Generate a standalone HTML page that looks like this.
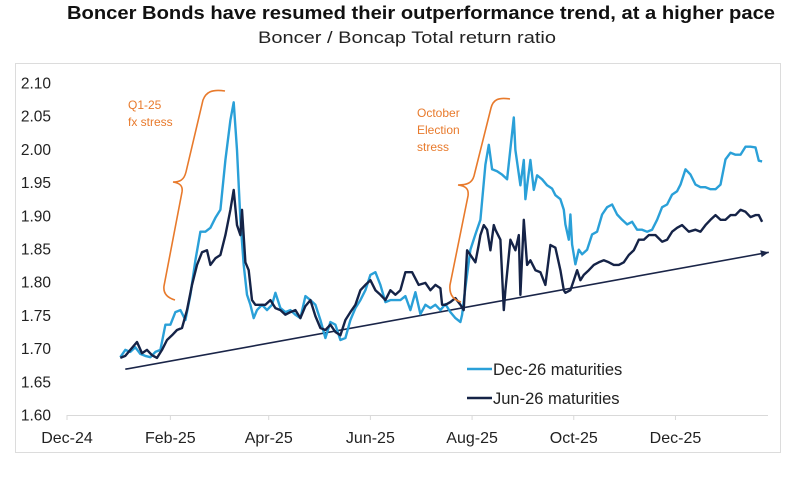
<!DOCTYPE html>
<html><head><meta charset="utf-8">
<style>
html,body{margin:0;padding:0;background:#fff;}
body{width:800px;height:496px;overflow:hidden;font-family:"Liberation Sans",Arial,sans-serif;}
</style></head>
<body>
<svg id="chart" width="800" height="496" xmlns="http://www.w3.org/2000/svg">
<text x="67" y="19" textLength="708" lengthAdjust="spacingAndGlyphs" font-size="18" font-weight="bold" fill="#111">Boncer Bonds have resumed their outperformance trend, at a higher pace</text>
<text x="258" y="43" textLength="298" lengthAdjust="spacingAndGlyphs" font-size="17" fill="#222">Boncer / Boncap Total return ratio</text>
<rect x="15.5" y="63.5" width="765" height="389" fill="none" stroke="#dcdcdc" stroke-width="1"/>
<g id="axes"></g>
<g id="series"></g>
<g fill="#e87a2c" font-size="12">
<path d="M225,91 C212,89 206,92 203,100 L186,172 C184,180 180,182 173,182 C180,183 183,186 182,192 L164,286 C163,294 168,298 175,300" fill="none" stroke="#e87a2c" stroke-width="1.6"/>
<text x="128" y="109">Q1-25</text>
<text x="128" y="126">fx stress</text>
<path d="M510,99 C498,97 493,100 491,108 L474,176 C472,183 467,185 458,185 C466,186 469,189 468,196 L450,285 C449,295 454,300 461,302" fill="none" stroke="#e87a2c" stroke-width="1.6"/>
<text x="417" y="117">October</text>
<text x="417" y="134">Election</text>
<text x="417" y="151">stress</text>
</g>
<g font-size="16.5" fill="#222">
<line x1="467" y1="369" x2="492" y2="369" stroke="#2aa0d8" stroke-width="2.5"/>
<text x="493" y="375">Dec-26 maturities</text>
<line x1="467" y1="398" x2="492" y2="398" stroke="#152347" stroke-width="2.5"/>
<text x="493" y="404">Jun-26 maturities</text>
</g>
</svg>
<script>
// days since 2024-12-01
const decDays=[32,35,38,41,44,47,50,53,56,59,62,65,68,71,74,77,80,83,86,89,92,95,98,100,102,104,106,108,110,112,114,117,120,123,125,128,131,134,137,140,143,146,149,152,155,158,161,164,167,170,173,176,179,182,185,188,191,194,200,203,206,209,212,215,218,221,224,227,230,233,236,237,239,242,245,248,251,253,255,258,261,264,268,269,272,274,275,278,280,282,285,288,291,293,296,298,299,301,302,303,305,307,309,312,315,318,321,324,327,330,333,336,339,342,345,348,351,354,357,360,363,366,368,371,374,377,380,383,386,389,392,395,398,401,404,407,410,413,415,417];
const decValues=[1.687,1.698,1.695,1.702,1.692,1.689,1.687,1.695,1.698,1.736,1.736,1.755,1.758,1.743,1.781,1.833,1.876,1.876,1.882,1.897,1.909,1.984,2.044,2.071,1.999,1.894,1.826,1.781,1.766,1.746,1.758,1.766,1.758,1.766,1.784,1.761,1.755,1.758,1.751,1.746,1.779,1.773,1.766,1.743,1.716,1.740,1.736,1.713,1.716,1.743,1.761,1.773,1.788,1.811,1.815,1.796,1.770,1.773,1.773,1.779,1.758,1.785,1.752,1.766,1.761,1.766,1.758,1.767,1.755,1.746,1.740,1.751,1.792,1.849,1.872,1.894,1.977,2.007,1.970,1.967,1.962,1.955,2.048,1.999,1.946,1.984,1.925,1.984,1.939,1.961,1.955,1.946,1.941,1.931,1.925,1.909,1.887,1.864,1.902,1.857,1.827,1.849,1.842,1.849,1.872,1.876,1.902,1.913,1.917,1.902,1.894,1.887,1.891,1.879,1.879,1.876,1.879,1.894,1.913,1.917,1.932,1.937,1.947,1.970,1.962,1.947,1.943,1.943,1.940,1.940,1.947,1.985,1.995,1.992,1.992,2.004,2.004,2.003,1.983,1.982];
const junDays=[32,35,38,42,45,48,51,54,57,60,63,66,69,72,75,78,81,84,86,89,92,95,98,100,102,104,105,107,109,111,113,116,119,122,125,128,131,134,137,140,143,146,149,152,155,158,161,164,167,170,173,176,179,182,185,188,191,194,197,200,203,207,211,215,218,221,224,225,227,230,233,236,238,240,242,245,247,248,250,252,254,256,257,260,262,263,266,269,271,272,274,276,278,281,284,287,290,293,296,298,299,302,304,306,308,310,313,316,319,322,325,328,331,334,337,340,343,346,349,353,357,360,363,366,369,373,377,380,383,386,389,392,395,398,401,404,407,410,413,415,417];
const junValues=[1.686,1.689,1.698,1.710,1.693,1.698,1.690,1.686,1.698,1.713,1.720,1.728,1.731,1.758,1.796,1.826,1.845,1.848,1.826,1.836,1.841,1.871,1.909,1.939,1.886,1.871,1.909,1.830,1.818,1.773,1.766,1.766,1.766,1.773,1.761,1.758,1.751,1.755,1.758,1.746,1.764,1.773,1.749,1.731,1.728,1.736,1.725,1.720,1.743,1.755,1.766,1.788,1.796,1.803,1.788,1.781,1.773,1.788,1.781,1.788,1.815,1.815,1.796,1.799,1.788,1.796,1.791,1.766,1.766,1.770,1.776,1.766,1.758,1.848,1.841,1.830,1.856,1.871,1.886,1.879,1.848,1.886,1.879,1.864,1.758,1.788,1.864,1.848,1.871,1.781,1.894,1.826,1.833,1.818,1.815,1.796,1.856,1.852,1.818,1.788,1.784,1.788,1.803,1.818,1.803,1.811,1.818,1.826,1.830,1.833,1.830,1.826,1.826,1.830,1.841,1.848,1.864,1.864,1.871,1.871,1.861,1.864,1.876,1.882,1.886,1.876,1.879,1.876,1.886,1.894,1.901,1.894,1.894,1.901,1.901,1.909,1.906,1.898,1.901,1.901,1.891];
const trendDays=[35,421];
const trendValues=[1.669,1.845];
const yTicks=[1.60,1.65,1.70,1.75,1.80,1.85,1.90,1.95,2.00,2.05,2.10];
const xTickDays=[0,62,121,182,243,304,365];
const xTickLabels=["Dec-24","Feb-25","Apr-25","Jun-25","Aug-25","Oct-25","Dec-25"];

const NS="http://www.w3.org/2000/svg";
const X0=67, PXD=1.667, Y0=415, PXV=664;
function xs(d){return X0+d*PXD;}
function ys(v){return Y0-(v-1.60)*PXV;}
function mk(tag,attrs,parent){const e=document.createElementNS(NS,tag);for(const k in attrs)e.setAttribute(k,attrs[k]);parent.appendChild(e);return e;}
const axes=document.getElementById('axes'), ser=document.getElementById('series');

const xl=mk('line',{x1:67,y1:Y0+0.5,x2:768,y2:Y0+0.5,stroke:'#d9d9d9','stroke-width':1},axes);


yTicks.forEach(v=>{
  const t=mk('text',{x:51,y:ys(v)+5.5,'text-anchor':'end','font-size':15.5,fill:'#222'},axes);
  t.textContent=v.toFixed(2);
  
  
});
xTickDays.forEach((d,i)=>{
  const tk=mk('line',{x1:xs(d),y1:Y0,x2:xs(d),y2:Y0+5,stroke:'#d9d9d9','stroke-width':1},axes);
  
  
  const t=mk('text',{x:xs(d),y:443,'text-anchor':'middle','font-size':16,fill:'#222'},axes);
  t.textContent=xTickLabels[i];
  
  
});
function pts(ds,vs){return ds.map((d,i)=>xs(d).toFixed(1)+','+ys(vs[i]).toFixed(1)).join(' ');}
const tr=mk('polyline',{points:pts(trendDays,trendValues),fill:'none',stroke:'#1a2548','stroke-width':1.6},ser);


const ex=xs(trendDays[1]),ey=ys(trendValues[1]);
const ang=Math.atan2(ys(trendValues[1])-ys(trendValues[0]),xs(trendDays[1])-xs(trendDays[0]));
const ah=mk('polygon',{points:`${ex},${ey} ${ex-8*Math.cos(ang)+3.5*Math.sin(ang)},${ey-8*Math.sin(ang)-3.5*Math.cos(ang)} ${ex-8*Math.cos(ang)-3.5*Math.sin(ang)},${ey-8*Math.sin(ang)+3.5*Math.cos(ang)}`,fill:'#1a2548'},ser);


const l1=mk('polyline',{points:pts(decDays,decValues),fill:'none',stroke:'#2aa0d8','stroke-width':2.4,'stroke-linejoin':'round'},ser);


const l2=mk('polyline',{points:pts(junDays,junValues),fill:'none',stroke:'#152347','stroke-width':2.4,'stroke-linejoin':'round'},ser);


</script>
</body></html>
